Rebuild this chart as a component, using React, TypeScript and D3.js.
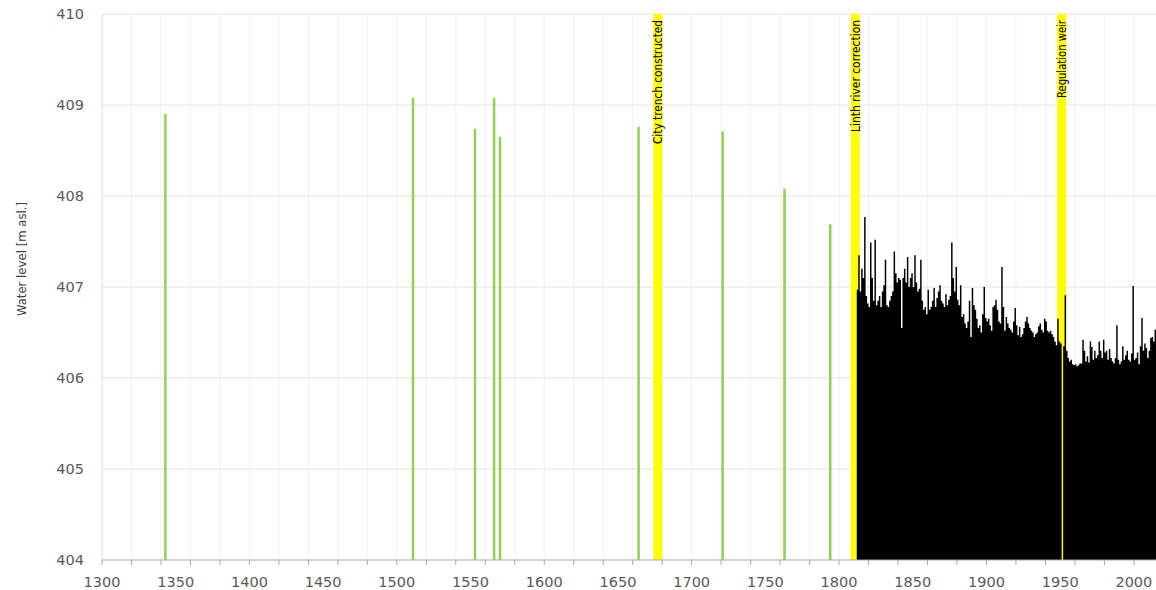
import React from 'react';
import * as d3 from 'd3';

// historic flood marks (before regular measurements)
const floodYears = [1343, 1511, 1553, 1566, 1570, 1664, 1721, 1763, 1794];
const floodLevels = [408.9, 409.08, 408.74, 409.08, 408.65, 408.76, 408.71, 408.08, 407.69];

// events marked by yellow lines
const eventYears = [1677, 1811, 1951];
const eventLabels = ['City trench constructed', 'Linth river correction', 'Regulation weir'];

// annual maximum water level, one value per year from 1812 (null = no value)
const annualStart = 1812;
const annualMax: (number | null)[] = [
  406.97, 407.35, 406.95, 407.2, 407.1, 407.77, 406.9, 406.82, // 1812-1819
  406.78, 407.49, 407.1, 406.85, 407.52, 406.8, 406.85, 406.9, 406.78, 406.95, // 1820s
  407.02, 407.3, 406.8, 406.78, 406.85, 406.9, 406.95, 407.39, 407.15, 407.05, // 1830s
  407.1, 407.08, 406.55, 407.1, 407.2, 407.05, 407.33, 407.0, 407.1, 407.15, // 1840s
  407.0, 407.35, 407.05, 406.95, 406.98, 407.3, 406.85, 406.75, 406.78, 406.7, // 1850s
  406.97, 406.75, 406.78, 406.85, 406.99, 406.78, 406.88, 406.95, 407.02, 406.85, // 1860s
  406.82, 406.78, 406.92, 406.8, 406.86, 406.9, 407.49, 407.1, 406.95, 407.22, // 1870s
  406.86, 406.8, 407.02, 406.67, 406.7, 406.6, 406.55, 406.62, 406.85, 406.45, // 1880s
  406.99, 406.8, 406.75, 406.65, 406.55, 406.58, 406.5, 406.7, 407.0, 406.66, // 1890s
  406.62, 406.65, 406.58, 406.52, 406.78, 406.8, 406.86, 406.75, 406.62, 406.6, // 1900s
  407.22, 406.78, 406.52, 406.67, 406.6, 406.55, 406.53, 406.5, 406.62, 406.77, // 1910s
  406.58, 406.47, 406.56, 406.45, 406.48, 406.55, 406.62, 406.67, 406.6, 406.55, // 1920s
  406.52, 406.5, 406.45, 406.48, 406.5, 406.57, 406.6, 406.53, 406.5, 406.65, // 1930s
  406.62, 406.52, 406.5, 406.52, 406.48, 406.45, 406.4, 406.36, 406.65, 406.4, // 1940s
  406.38, null, 406.35, 406.91, 406.3, 406.22, 406.18, 406.2, 406.15, 406.14, // 1950s
  406.15, 406.13, 406.14, 406.16, 406.16, 406.42, 406.3, 406.18, 406.24, 406.17, // 1960s
  406.4, 406.34, 406.2, 406.3, 406.22, 406.25, 406.4, 406.3, 406.22, 406.42, // 1970s
  406.28, 406.3, 406.2, 406.32, 406.22, 406.18, 406.16, 406.22, 406.58, 406.2, // 1980s
  406.15, 406.18, 406.35, 406.2, 406.25, 406.3, 406.2, 406.18, 406.27, 407.01, // 1990s
  406.2, 406.22, 406.28, 406.15, 406.35, 406.66, 406.3, 406.38, 406.33, 406.22, // 2000s
  406.3, 406.44, 406.45, 406.4, 406.53, // 2010-2014
];

const yTicks = [404, 405, 406, 407, 408, 409, 410];
const xLabels = [1300, 1350, 1400, 1450, 1500, 1550, 1600, 1650, 1700, 1750, 1800, 1850, 1900, 1950, 2000];
const xMinorTicks = d3.range(1300, 2015, 20);

const W = 1156;
const H = 590;
const margin = { top: 14, right: 0, bottom: 30, left: 102 };

const App = () => {
  const x = d3.scaleLinear().domain([1300, 2015]).range([margin.left, W - margin.right]);
  const y = d3.scaleLinear().domain([404, 410]).range([H - margin.bottom, margin.top]);

  const narrow = "'Liberation Sans Narrow', 'DejaVu Sans Condensed', 'Arial Narrow', sans-serif";
  const tickFont = "'DejaVu Sans', Verdana, sans-serif";
  // label lengths as they appear in the source chart (condensed font)
  const labelLen = [124, 112, 78];

  // all yearly bars in one path, so no hairline seams appear between them
  const bars = d3.path();
  annualMax.forEach((v, i) => {
    if (v == null) return;
    const x0 = x(annualStart + i);
    const x1 = x(annualStart + i + 1);
    bars.rect(x0, y(v), x1 - x0, y(404) - y(v));
  });

  return (
    <svg width={W} height={H} style={{ position: 'absolute', left: 0, top: 0, background: '#fff' }}>
      {/* vertical gridlines */}
      {xMinorTicks.map(t => (
        <line key={'vg' + t} x1={x(t)} x2={x(t)} y1={y(410)} y2={y(404)} stroke="#f1f1f1" strokeWidth={1} />
      ))}
      {/* horizontal gridlines */}
      {yTicks.slice(1).map(t => (
        <line key={'hg' + t} x1={x(1300)} x2={W} y1={y(t)} y2={y(t)} stroke="#e4e4e4" strokeWidth={1} />
      ))}
      <line x1={x(1300)} x2={x(1300)} y1={y(410)} y2={y(404)} stroke="#e4e4e4" />

      {/* event lines */}
      {eventYears.map(e => (
        <rect key={'ev' + e} x={x(e) - 4.5} width={9} y={y(410)} height={y(404) - y(410)} fill="#ffff00" />
      ))}

      {/* historic flood marks */}
      {floodYears.map((yr, i) => (
        <line key={'fl' + yr} x1={x(yr)} x2={x(yr)} y1={y(floodLevels[i])} y2={y(404)}
          stroke="#92d050" strokeWidth={2.5} />
      ))}

      {/* annual maxima */}
      <path d={bars.toString()} fill="#000" />

      {/* event labels */}
      {eventYears.map((e, i) => (
        <text key={'el' + e} transform={`translate(${x(e) + 4.5},${y(410) + 6}) rotate(-90)`}
          textAnchor="end" fontFamily={narrow} fontSize={13} fill="#000"
          textLength={labelLen[i]} lengthAdjust="spacingAndGlyphs">
          {eventLabels[i]}
        </text>
      ))}

      {/* x axis */}
      <line x1={x(1300)} x2={W} y1={y(404)} y2={y(404)} stroke="#a6a6a6" />
      {xMinorTicks.map(t => (
        <line key={'xt' + t} x1={x(t)} x2={x(t)} y1={y(404)} y2={y(404) + 5} stroke="#a6a6a6" />
      ))}
      {xLabels.map(t => (
        <text key={'xl' + t} x={x(t)} y={H - 3} textAnchor="middle" fontFamily={tickFont} fontSize={14.5} fill="#595959">
          {t}
        </text>
      ))}

      {/* y axis */}
      {yTicks.map(t => (
        <text key={'yl' + t} x={84} y={y(t)} dy="0.35em" textAnchor="end" fontFamily={tickFont} fontSize={14.5} fill="#595959">
          {t}
        </text>
      ))}
      <text transform={`translate(26,${(y(404) + y(410)) / 2 - 28}) rotate(-90)`} textAnchor="middle"
        fontFamily={narrow} fontSize={13} fill="#404040">
        Water level  [m asl.]
      </text>
    </svg>
  );
};

export default App;
